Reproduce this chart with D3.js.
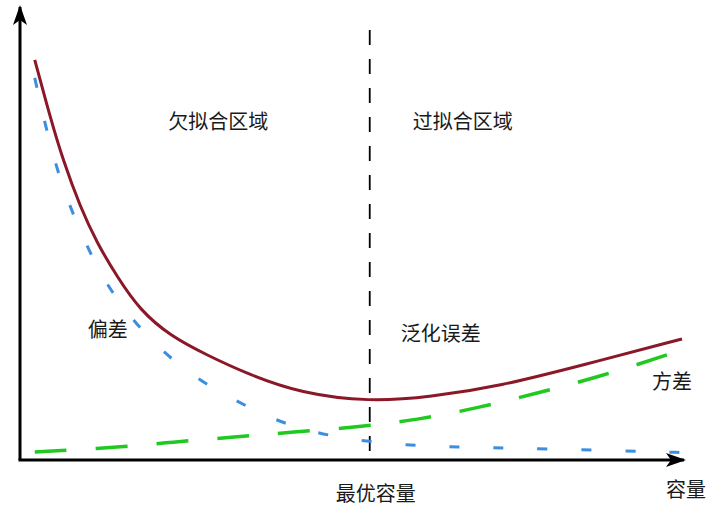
<!DOCTYPE html>
<html>

<head>
    <meta charset="UTF-8">
    <title>容量与误差</title>
    <style>
        body { margin: 0; background: #fff; }
        text { font-family: "Noto Sans CJK SC", sans-serif; fill: #1a1a1a; }
    </style>
</head>

<body>

    <svg id="chart"></svg>

    <script src="https://cdn.jsdelivr.net/npm/d3@7/dist/d3.min.js"></script>
    <script>
        // 泛化误差 (总误差)
        const errX = [0.22, 0.45, 0.64, 0.90, 1.15, 1.45, 1.79, 2.24, 2.79, 3.43, 4.18, 5.22, 6.12, 7.16, 8.40, 9.88];
        const errY = [8.89, 7.62, 6.67, 5.62, 4.82, 4.07, 3.33, 2.76, 2.33, 1.89, 1.49, 1.29, 1.40, 1.64, 2.11, 2.69];
        // 偏差
        const biasX = [0.22, 0.42, 0.64, 0.94, 1.27, 1.69, 2.13, 2.66, 3.21, 3.73, 4.25, 4.85, 5.42, 6.00, 6.55, 7.12, 8.66, 10.0];
        const biasY = [8.49, 7.16, 6.02, 4.93, 3.93, 3.09, 2.40, 1.78, 1.33, 0.93, 0.67, 0.47, 0.38, 0.31, 0.29, 0.27, 0.22, 0.16];
        // 方差
        const varX = [0.22, 1.39, 2.28, 3.21, 4.07, 5.03, 5.93, 6.84, 7.73, 8.63, 9.75];
        const varY = [0.18, 0.27, 0.40, 0.51, 0.62, 0.73, 0.89, 1.16, 1.49, 1.84, 2.38];

        const optimal = 5.22;
        const labels = ['欠拟合区域', '过拟合区域', '偏差', '泛化误差', '方差'];
        const labelX = [2.96, 6.61, 1.31, 6.28, 9.73];
        const labelY = [7.51, 7.51, 2.89, 2.80, 1.73];

        const width = 714;
        const height = 511;

        const svg = d3.select('#chart')
            .attr('width', width)
            .attr('height', height);

        const x = d3.scaleLinear().domain([0, 10]).range([20, 690]);
        const y = d3.scaleLinear().domain([0, 10]).range([460, 10]);

        const defs = svg.append('defs');
        defs.append('marker')
            .attr('id', 'arrow')
            .attr('viewBox', '0 0 20 14')
            .attr('refX', 18)
            .attr('refY', 7)
            .attr('markerWidth', 20)
            .attr('markerHeight', 14)
            .attr('markerUnits', 'userSpaceOnUse')
            .attr('orient', 'auto')
            .append('path')
            .attr('d', 'M0,0 L20,7 L0,14 L5,7 Z')
            .attr('fill', '#000');

        // 坐标轴
        svg.append('line')
            .attr('x1', x(0)).attr('y1', y(0))
            .attr('x2', x(0)).attr('y2', 7)
            .attr('stroke', '#000').attr('stroke-width', 3)
            .attr('marker-end', 'url(#arrow)');
        svg.append('line')
            .attr('x1', x(0) - 1.5).attr('y1', y(0))
            .attr('x2', 684).attr('y2', y(0))
            .attr('stroke', '#000').attr('stroke-width', 3)
            .attr('marker-end', 'url(#arrow)');

        // 最优容量分界线
        svg.append('line')
            .attr('x1', x(optimal)).attr('y1', 30)
            .attr('x2', x(optimal)).attr('y2', y(0))
            .attr('stroke', '#000').attr('stroke-width', 1.8)
            .attr('stroke-dasharray', '15,14');

        const line = d3.line()
            .x(d => x(d[0]))
            .y(d => y(d[1]))
            .curve(d3.curveBasis);

        const series = [
            { xs: varX, ys: varY, color: '#1fc91f', w: 3.5, dash: '32,29' },
            { xs: biasX, ys: biasY, color: '#3b8ee0', w: 3, dash: '10,34' },
            { xs: errX, ys: errY, color: '#8a1828', w: 3, dash: null }
        ];

        svg.append('g')
            .selectAll('path')
            .data(series)
            .enter()
            .append('path')
            .attr('d', d => line(d.xs.map((v, i) => [v, d.ys[i]])))
            .attr('fill', 'none')
            .attr('stroke', d => d.color)
            .attr('stroke-width', d => d.w)
            .attr('stroke-dasharray', d => d.dash);

        // 标注
        svg.append('g')
            .selectAll('text')
            .data(labels)
            .enter()
            .append('text')
            .attr('x', (d, i) => x(labelX[i]))
            .attr('y', (d, i) => y(labelY[i]))
            .attr('dy', '0.36em')
            .attr('text-anchor', 'middle')
            .style('font-size', '20px')
            .text(d => d);

        svg.append('text')
            .attr('x', x(optimal) + 6)
            .attr('y', 494)
            .attr('dy', '0.36em')
            .attr('text-anchor', 'middle')
            .style('font-size', '20px')
            .text('最优容量');

        svg.append('text')
            .attr('x', 686)
            .attr('y', 490)
            .attr('dy', '0.36em')
            .attr('text-anchor', 'middle')
            .style('font-size', '20px')
            .text('容量');
    </script>
</body>

</html>
